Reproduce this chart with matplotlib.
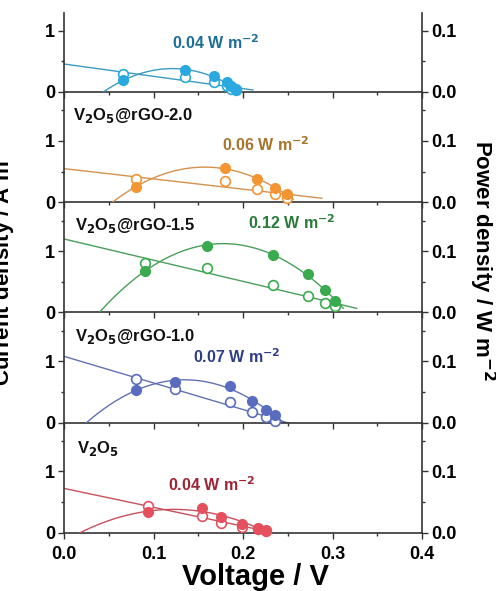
import numpy as np
import matplotlib
matplotlib.use("Agg")
import matplotlib.pyplot as plt
from matplotlib.ticker import MultipleLocator, FormatStrFormatter

plt.rcParams["font.family"] = ["Liberation Sans", "DejaVu Sans"]
plt.rcParams["font.weight"] = "bold"
plt.rcParams["mathtext.default"] = "bf"

# ---- data: voltage (V), current density (A m^-2), power density (W m^-2) ----
names = ["", "V$_2$O$_5$@rGO-2.0", "V$_2$O$_5$@rGO-1.5", "V$_2$O$_5$@rGO-1.0", "V$_2$O$_5$"]
peak_labels = ["0.04 W m$^{-2}$", "0.06 W m$^{-2}$", "0.12 W m$^{-2}$", "0.07 W m$^{-2}$", "0.04 W m$^{-2}$"]

volt_1 = [0.066, 0.135, 0.168, 0.182, 0.187, 0.192]
curr_1 = [0.29, 0.245, 0.16, 0.09, 0.055, 0.03]
powr_1 = [0.019, 0.0355, 0.026, 0.016, 0.009, 0.005]

volt_2 = [0.080, 0.180, 0.216, 0.236, 0.249]
curr_2 = [0.37, 0.34, 0.22, 0.125, 0.07]
powr_2 = [0.025, 0.055, 0.038, 0.023, 0.0125]

volt_3 = [0.0905, 0.160, 0.234, 0.273, 0.292, 0.303]
curr_3 = [0.81, 0.73, 0.44, 0.265, 0.16, 0.10]
powr_3 = [0.068, 0.109, 0.093, 0.063, 0.036, 0.018]

volt_4 = [0.080, 0.124, 0.185, 0.210, 0.226, 0.236]
curr_4 = [0.71, 0.55, 0.33, 0.175, 0.09, 0.02]
powr_4 = [0.053, 0.067, 0.059, 0.035, 0.020, 0.012]

volt_5 = [0.0935, 0.154, 0.175, 0.1985, 0.217, 0.226]
curr_5 = [0.43, 0.28, 0.155, 0.10, 0.06, 0.03]
powr_5 = [0.034, 0.041, 0.025, 0.014, 0.007, 0.004]

# voltage span of each fitted curve (current fit, power fit)
curr_span = [(0.0, 0.211), (0.0, 0.288), (0.0, 0.327), (0.0, 0.251), (0.0, 0.230)]
powr_span = [(0.044, 0.200), (0.051, 0.256), (0.040, 0.312), (0.025, 0.243), (0.0, 0.230)]

volts = [volt_1, volt_2, volt_3, volt_4, volt_5]
currs = [curr_1, curr_2, curr_3, curr_4, curr_5]
powrs = [powr_1, powr_2, powr_3, powr_4, powr_5]

marker_colors = ["#2aa9e0", "#f39533", "#3aaa4e", "#5a6cc0", "#e5505f"]
line_colors = ["#3a9cc4", "#d4914e", "#4a9e5a", "#6270b5", "#c8505c"]
text_colors = ["#1d6f96", "#a8742c", "#2a7a3a", "#2e3f86", "#9e2535"]

ytops = [1.29, 1.8, 1.8, 1.8, 1.8]

# text anchor positions (voltage, current-density units)
name_pos = [None, (0.010, 1.42), (0.012, 1.42), (0.012, 1.41), (0.014, 1.37)]
peak_pos = [(0.121, 0.81), (0.176, 0.935), (0.206, 1.46), (0.1445, 1.08), (0.1165, 0.78)]

spine_col = "#333333"

fig = plt.figure(figsize=(4.96, 5.91), dpi=100)
gs = fig.add_gridspec(5, 1, height_ratios=ytops, hspace=0,
                      left=64 / 496, right=422 / 496,
                      top=1 - 13 / 591, bottom=1 - 532.7 / 591)

for i in range(5):
    ax = fig.add_subplot(gs[i])
    ax.set_facecolor("none")
    ax2 = ax.twinx()
    ax.set_zorder(2 + i)
    ax2.set_zorder(2 + i)

    v = np.array(volts[i]); c = np.array(currs[i]); p = np.array(powrs[i])
    # linear fit of current density
    cf = np.polyfit(v, c, 1)
    vv = np.linspace(*curr_span[i], 200)
    ax.plot(vv, np.polyval(cf, vv), color=line_colors[i], lw=1.0, zorder=2)
    # quadratic fit of power density
    pf = np.polyfit(v, p, 2)
    vp = np.linspace(*powr_span[i], 200)
    ax2.plot(vp, np.polyval(pf, vp), color=line_colors[i], lw=1.0, zorder=2)

    ax.plot(v, c, "o", ms=7, mfc="white", mec=marker_colors[i], mew=1.2,
            zorder=3, clip_on=False)
    ax2.plot(v, p, "o", ms=7, mfc=marker_colors[i], mec=marker_colors[i],
             mew=1.0, zorder=3, clip_on=False)

    ax.set_xlim(0, 0.4)
    ax.set_ylim(0, ytops[i])
    ax2.set_ylim(0, ytops[i] / 10)

    ax.xaxis.set_major_locator(MultipleLocator(0.1))
    ax.xaxis.set_minor_locator(MultipleLocator(0.05))
    ax.yaxis.set_major_locator(MultipleLocator(1))
    ax.yaxis.set_minor_locator(MultipleLocator(0.5))
    ax2.yaxis.set_major_locator(MultipleLocator(0.1))
    ax2.yaxis.set_minor_locator(MultipleLocator(0.05))
    ax.xaxis.set_major_formatter(FormatStrFormatter("%.1f"))
    ax.yaxis.set_major_formatter(FormatStrFormatter("%d"))
    ax2.yaxis.set_major_formatter(FormatStrFormatter("%.1f"))

    for a in (ax, ax2):
        a.tick_params(which="major", direction="out", length=4.5, width=1.0,
                      color=spine_col, labelsize=13, pad=2)
        a.tick_params(which="minor", direction="out", length=2.5, width=1.0,
                      color=spine_col)
        for s in a.spines.values():
            s.set_visible(False)
    ax.tick_params(axis="x", which="major", pad=5)
    ax.spines["left"].set_visible(True)
    ax.spines["bottom"].set_visible(True)
    ax2.spines["right"].set_visible(True)
    for s in (ax.spines["left"], ax.spines["bottom"], ax2.spines["right"]):
        s.set_color(spine_col)
        s.set_linewidth(1.2)

    if i < 4:
        ax.tick_params(axis="x", labelbottom=False)
    for lab in ax.get_xticklabels() + ax.get_yticklabels() + ax2.get_yticklabels():
        lab.set_fontweight("bold")

    if name_pos[i] is not None:
        ax.text(name_pos[i][0], name_pos[i][1], names[i], fontsize=12,
                fontweight="bold", color="#111111", ha="left", va="center")
    ax.text(peak_pos[i][0], peak_pos[i][1], peak_labels[i], fontsize=11.5,
            fontweight="bold", color=text_colors[i], ha="left", va="center")

fig.text(255 / 496, 1 - 577 / 591, "Voltage / V", fontsize=21,
         fontweight="bold", ha="center", va="center")
fig.text(482 / 496, 1 - 261 / 591, "Power density / W m$^{-2}$",
         fontsize=16, fontweight="bold", rotation=270, ha="center", va="center")
fig.text(18 / 496, 1 - 261 / 591, "Current density / A m$^{-2}$",
         fontsize=16, fontweight="bold", rotation=90, ha="right", va="center")

fig.savefig("out.png", dpi=100)
